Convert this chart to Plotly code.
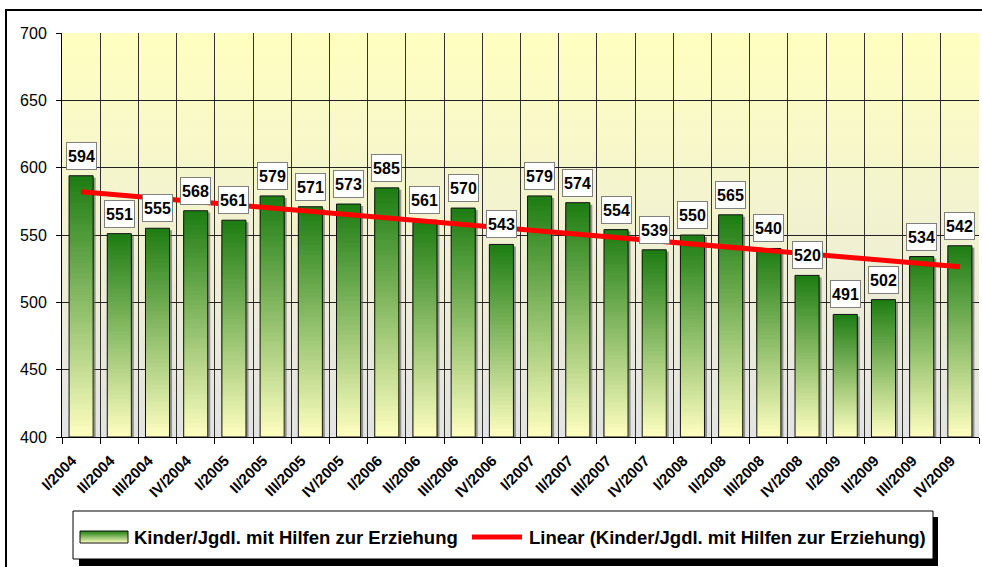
import base64
import numpy as np
import plotly.graph_objects as go

categories = ["I/2004", "II/2004", "III/2004", "IV/2004",
              "I/2005", "II/2005", "III/2005", "IV/2005",
              "I/2006", "II/2006", "III/2006", "IV/2006",
              "I/2007", "II/2007", "III/2007", "IV/2007",
              "I/2008", "II/2008", "III/2008", "IV/2008",
              "I/2009", "II/2009", "III/2009", "IV/2009"]
values = [594, 551, 555, 568, 561, 579, 571, 573, 585, 561, 570, 543,
          579, 574, 554, 539, 550, 565, 540, 520, 491, 502, 534, 542]
series_name = "Kinder/Jgdl. mit Hilfen zur Erziehung"
trend_name = "Linear (Kinder/Jgdl. mit Hilfen zur Erziehung)"
y_ticks = [400, 450, 500, 550, 600, 650, 700]
y_min, y_max = 400, 700

W, H = 982, 567
ML, MR, MT, MB = 62, 3, 33, 130
PW, PH = W - ML - MR, H - MT - MB

FONT = "Liberation Sans, Arial, sans-serif"
TOP = (28, 124, 18)
BOT = (255, 255, 192)


def mix(t):
    c = [round(BOT[i] + (TOP[i] - BOT[i]) * t) for i in range(3)]
    return "rgb(%d,%d,%d)" % tuple(c)


def px_x(px):
    return (px - ML) / PW


def px_y(py):
    return (MT + PH - py) / PH


def grad_svg(top, bottom):
    svg = ('<svg xmlns="http://www.w3.org/2000/svg" width="10" height="100">'
           '<defs><linearGradient id="g" x1="0" y1="0" x2="0" y2="1">'
           '<stop offset="0" stop-color="%s"/><stop offset="1" stop-color="%s"/>'
           '</linearGradient></defs><rect width="10" height="100" fill="url(#g)"/></svg>') % (top, bottom)
    return "data:image/svg+xml;base64," + base64.b64encode(svg.encode()).decode()


fig = go.Figure()

BW = 0.63
N = 48
heights = [v - y_min for v in values]
cat_px = PW / len(categories)
val_px = PH / (y_max - y_min)

# soft shadow at the right of each bar
fig.add_trace(go.Bar(
    x=categories, y=[h - 2.0 / val_px for h in heights], base=y_min,
    width=BW, offset=-BW / 2 + 2.5 / cat_px,
    marker=dict(color="rgba(100,100,100,0.65)", line=dict(width=0)),
    showlegend=False, hoverinfo="skip"))

# gradient bars: overlaid from tallest (top colour) to shortest (bottom colour)
for k in range(N - 1, -1, -1):
    frac = (k + 1) / N
    fig.add_trace(go.Bar(
        x=categories, y=[h * frac for h in heights], base=y_min,
        width=BW, offset=-BW / 2, marker=dict(color=mix((k + 0.5) / N), line=dict(width=0)),
        showlegend=False, hoverinfo="skip"))

# outline
fig.add_trace(go.Bar(
    x=categories, y=heights, base=y_min, width=BW, offset=-BW / 2, name=series_name,
    marker=dict(color="rgba(0,0,0,0)", line=dict(color="#111111", width=1)),
    showlegend=False, customdata=values, hovertemplate="%{x}: %{customdata}<extra></extra>"))

# linear trend
xi = np.arange(len(values))
slope, icpt = np.polyfit(xi, values, 1)
trend = slope * xi + icpt
fig.add_trace(go.Scatter(
    x=categories, y=trend, mode="lines", name=trend_name,
    line=dict(color="#ff0000", width=5), showlegend=False))

annotations = []
for c, v in zip(categories, values):
    annotations.append(dict(
        x=c, y=v, xref="x", yref="y", text="<b>%d</b>" % v, showarrow=False,
        yanchor="bottom", yshift=6, width=27, height=24,
        font=dict(family=FONT, size=16, color="#000000"),
        bgcolor="#ffffff", bordercolor="#7f7f7f", borderwidth=1, borderpad=1))

# legend (manual)
annotations.append(dict(
    x=px_x(132), y=px_y(537), xref="paper", yref="paper", xanchor="left", yanchor="middle",
    text="<b>%s</b>" % series_name, showarrow=False,
    font=dict(family=FONT, size=18.5, color="#000000")))
annotations.append(dict(
    x=px_x(527), y=px_y(537), xref="paper", yref="paper", xanchor="left", yanchor="middle",
    text="<b>%s</b>" % trend_name, showarrow=False,
    font=dict(family=FONT, size=18.5, color="#000000")))

shapes = [
    # outer border
    dict(type="rect", xref="paper", yref="paper", x0=px_x(6), x1=px_x(990),
         y0=px_y(580), y1=px_y(10), line=dict(color="#000000", width=2), layer="below"),
    # legend shadow
    dict(type="rect", xref="paper", yref="paper", x0=px_x(79), x1=px_x(938),
         y0=px_y(566), y1=px_y(517), line=dict(width=0), fillcolor="#000000", layer="below"),
    # legend box
    dict(type="rect", xref="paper", yref="paper", x0=px_x(73), x1=px_x(933),
         y0=px_y(559), y1=px_y(511), line=dict(color="#000000", width=1), fillcolor="#ffffff",
         layer="below"),
    # legend line sample
    dict(type="line", xref="paper", yref="paper", x0=px_x(472), x1=px_x(522),
         y0=px_y(537), y1=px_y(537), line=dict(color="#ff0000", width=5), layer="above"),
    # legend bar sample border
    dict(type="rect", xref="paper", yref="paper", x0=px_x(80), x1=px_x(128),
         y0=px_y(543), y1=px_y(531), line=dict(color="#111111", width=1), layer="above"),
]

images = [
    dict(source=grad_svg("#ffffc0", "#e3e3e3"), xref="paper", yref="paper",
         x=0, y=1, sizex=1, sizey=1, xanchor="left", yanchor="top",
         sizing="stretch", layer="below"),
    dict(source=grad_svg("rgb(28,124,18)", "rgb(255,255,192)"), xref="paper", yref="paper",
         x=px_x(80), y=px_y(531), sizex=px_x(128) - px_x(80), sizey=px_y(531) - px_y(543),
         xanchor="left", yanchor="top", sizing="stretch", layer="above"),
]

fig.update_layout(
    width=W, height=H, margin=dict(l=ML, r=MR, t=MT, b=MB, pad=0),
    paper_bgcolor="#ffffff", plot_bgcolor="rgba(0,0,0,0)",
    barmode="overlay", showlegend=False,
    font=dict(family=FONT, color="#000000"),
    annotations=annotations, shapes=shapes, images=images,
    xaxis=dict(type="category", tickson="boundaries", showgrid=True, gridcolor="#333333",
               gridwidth=1, showline=True, linecolor="#000000", linewidth=1,
               ticks="outside", ticklen=6, tickcolor="#000000", tickangle=-45,
               tickfont=dict(family=FONT, size=15, color="#000000"),
               ticklabelstandoff=8, ticklabelshift=-9,
               range=[-0.5, len(categories) - 0.5], fixedrange=True),
    yaxis=dict(range=[y_min, y_max], tickvals=y_ticks, showgrid=True, gridcolor="#222222",
               gridwidth=1, showline=True, linecolor="#000000", linewidth=1,
               ticks="outside", ticklen=5, tickcolor="#000000",
               tickfont=dict(family=FONT, size=16, color="#000000"),
               ticklabelstandoff=6, zeroline=False, fixedrange=True),
)
fig.update_xaxes(tickprefix="<b>", ticksuffix="</b>")

fig.write_html("out.html", config={"displayModeBar": False},
               post_script="document.body.style.margin='0';document.body.style.overflow='hidden';")
